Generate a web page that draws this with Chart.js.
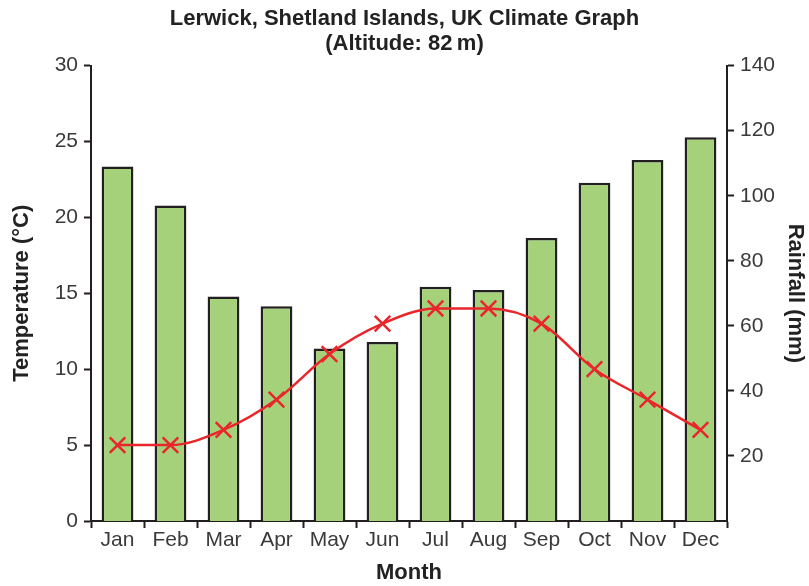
<!DOCTYPE html>
<html>
<head>
<meta charset="utf-8">
<script src="https://cdn.jsdelivr.net/npm/chart.js@4/dist/chart.umd.min.js"></script>
<style>
  html, body { margin: 0; padding: 0; background: #fff; }
  #wrap { width: 809px; height: 586px; }
</style>
</head>
<body>
<div id="wrap"><canvas id="climateChart" width="809" height="586"></canvas></div>
<script>
/* =====================================================
   Data
===================================================== */
const months = ['Jan', 'Feb', 'Mar', 'Apr', 'May', 'Jun', 'Jul', 'Aug', 'Sep', 'Oct', 'Nov', 'Dec'];
const rainfall = [109, 97, 69, 66, 53, 55, 72, 71, 87, 104, 111, 118];
const temperature = [5, 5, 6, 8, 11, 13, 14, 14, 13, 10, 8, 6];
const tempTicks = [0, 5, 10, 15, 20, 25, 30];
const rainTicks = [20, 40, 60, 80, 100, 120, 140];

const axisColor = '#231f20';
const textColor = '#3a3a3a';
const fontFamily = '"Liberation Sans", Arial, Helvetica, sans-serif';

/* =====================================================
   Chart
===================================================== */
new Chart(document.getElementById('climateChart'), {
  data: {
    labels: months,
    datasets: [
      {
        type: 'line',
        label: 'Temperature',
        data: temperature,
        yAxisID: 'yTemp',
        borderColor: '#e8262b',
        borderWidth: 2.5,
        cubicInterpolationMode: 'monotone',
        pointStyle: 'crossRot',
        pointRadius: 11,
        pointBorderWidth: 2.5,
        pointBorderColor: '#e8262b',
        order: 0
      },
      {
        type: 'bar',
        label: 'Rainfall',
        data: rainfall,
        yAxisID: 'yRain',
        backgroundColor: '#a4d17a',
        borderColor: axisColor,
        borderWidth: 2.5,
        borderSkipped: 'bottom',
        barPercentage: 0.6,
        categoryPercentage: 1,
        order: 1
      }
    ]
  },
  options: {
    responsive: false,
    animation: false,
    layout: { padding: 0 },
    plugins: {
      legend: { display: false },
      tooltip: { enabled: false },
      title: {
        display: true,
        text: ['Lerwick, Shetland Islands, UK Climate Graph', '(Altitude: 82\u2009m)'],
        color: '#222',
        font: { family: fontFamily, size: 22, weight: 'bold', lineHeight: 1.15 },
        padding: { top: 6, bottom: 9 }
      }
    },
    scales: {
      x: {
        offset: true,
        grid: {
          offset: true,
          drawOnChartArea: false,
          tickLength: 7,
          tickWidth: 2,
          tickColor: axisColor
        },
        border: { color: axisColor, width: 2 },
        ticks: { color: textColor, font: { family: fontFamily, size: 21 }, padding: 0 },
        title: {
          display: true,
          text: 'Month',
          color: '#222',
          font: { family: fontFamily, size: 22, weight: 'bold' },
          padding: { top: 0, bottom: 0 }
        },
        afterFit: s => { s.height = 65; }
      },
      yTemp: {
        position: 'left',
        min: 0,
        max: 30,
        afterBuildTicks: s => { s.ticks = tempTicks.map(v => ({ value: v })); },
        grid: { drawOnChartArea: false, tickLength: 7, tickWidth: 2, tickColor: axisColor },
        border: { color: axisColor, width: 2 },
        ticks: { color: textColor, font: { family: fontFamily, size: 21 }, padding: 6 },
        title: {
          display: true,
          text: 'Temperature (°C)',
          color: '#222',
          font: { family: fontFamily, size: 22, weight: 'bold' },
          padding: { top: 9, bottom: 0 }
        },
        afterFit: s => { s.width = 91; }
      },
      yRain: {
        position: 'right',
        min: 0,
        max: 140,
        afterBuildTicks: s => { s.ticks = rainTicks.map(v => ({ value: v })); },
        grid: { drawOnChartArea: false, tickLength: 7, tickWidth: 2, tickColor: axisColor },
        border: { color: axisColor, width: 2 },
        ticks: { color: textColor, font: { family: fontFamily, size: 21 }, padding: 6 },
        title: {
          display: true,
          text: 'Rainfall (mm)',
          color: '#222',
          font: { family: fontFamily, size: 22, weight: 'bold' },
          padding: { top: 1, bottom: 0 }
        },
        afterFit: s => { s.width = 82; }
      }
    }
  }
});
</script>
</body>
</html>
